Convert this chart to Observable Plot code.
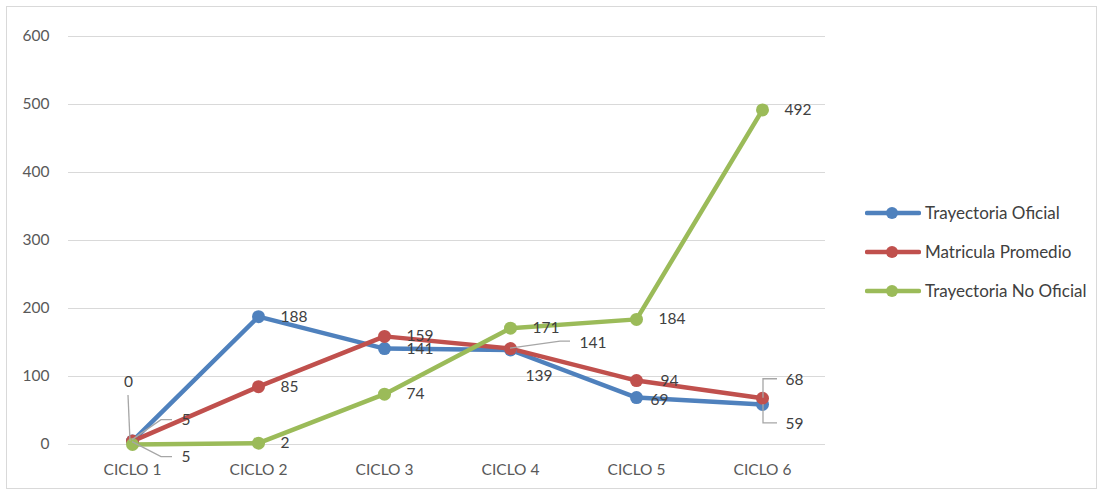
<!DOCTYPE html>
<html><head><meta charset="utf-8">
<script src="https://cdn.jsdelivr.net/npm/d3@7"></script>
<script src="https://cdn.jsdelivr.net/npm/@observablehq/plot@0.6"></script>
<style>
body{margin:0;background:#fff;font-family:Lato,"Noto Sans",sans-serif}
#wrap{position:relative;width:1104px;height:493px;overflow:hidden}
#border{position:absolute;left:6px;top:6px;width:1091px;height:483px;border:1.5px solid #d9d9d9;box-sizing:border-box}
#chart{position:absolute;left:0;top:0}
#legend{position:absolute;left:865px;top:193px}
.item{display:flex;align-items:center;height:39px;font-size:17px;color:#404040}
.item svg{margin-right:4px}
</style></head>
<body>
<div id="wrap"><div id="border"></div><div id="chart"></div><div id="legend"></div></div>
<script>
const cycles = ["CICLO 1","CICLO 2","CICLO 3","CICLO 4","CICLO 5","CICLO 6"];
const seriesNames = ["Trayectoria Oficial","Matricula Promedio","Trayectoria No Oficial"];
const oficial = [5,188,141,139,69,59];
const matricula = [5,85,159,141,94,68];
const noOficial = [0,2,74,171,184,492];
const yTicks = [0,100,200,300,400,500,600];
const colors = ["#4F81BD","#C0504D","#9BBB59"];

const seriesValues = [oficial, matricula, noOficial];
const table = [];
seriesNames.forEach((s,i)=>cycles.forEach((c,j)=>table.push({series:s, cycle:c, value:seriesValues[i][j]})));
const key = d => d.series + "|" + d.cycle;

// label placement (styling, not data)
const special = {
  "Trayectoria Oficial|CICLO 1":[49,-21,"start"],
  "Matricula Promedio|CICLO 1":[49,16,"start"],
  "Trayectoria No Oficial|CICLO 1":[-4,-62,"middle"],
  "Trayectoria Oficial|CICLO 4":[15,26,"start"],
  "Trayectoria Oficial|CICLO 5":[14,2,"start"],
  "Trayectoria Oficial|CICLO 6":[23,20,"start"],
  "Matricula Promedio|CICLO 6":[23,-18,"start"],
  "Matricula Promedio|CICLO 4":[69,-6,"start"],
  "Matricula Promedio|CICLO 5":[24,0,"start"]
};
const leaders = {
  "Trayectoria No Oficial|CICLO 1":[[-2,-3],[-4,-49]],
  "Trayectoria Oficial|CICLO 1":[[0,-1],[29,-21],[40,-21]],
  "Matricula Promedio|CICLO 1":[[0,1],[29,16],[40,16]],
  "Matricula Promedio|CICLO 4":[[0,0],[50,-7],[60,-7]],
  "Matricula Promedio|CICLO 6":[[1,0],[1,-19],[15,-19]],
  "Trayectoria Oficial|CICLO 6":[[1,0],[1,19],[15,19]]
};

const color = {domain: seriesNames, range: colors};
const labelStyle = {fill:"#404040", fontSize:15.5, fontFamily:"Lato"};

const marks = [
  Plot.ruleY(yTicks, {stroke:"#d9d9d9", strokeWidth:1}),
  Plot.axisY(yTicks, {tickSize:0, tickPadding:19, fontSize:15.5, fill:"#595959", fontFamily:"Lato", label:null}),
  Plot.axisX({tickSize:0, tickPadding:19, fontSize:15.5, fill:"#595959", fontFamily:"Lato", label:null}),
  Plot.line(table, {x:"cycle", y:"value", stroke:"series", z:"series", strokeWidth:4.5, strokeLinejoin:"round", strokeLinecap:"round"}),
  Plot.dot(table, {x:"cycle", y:"value", fill:"series", r:6.5}),
  (index, scales) => {
    const g = d3.create("svg:g").attr("fill","none").attr("stroke","#a6a6a6").attr("stroke-width",1.3);
    table.filter(d => leaders[key(d)]).forEach(d => {
      const px = scales.x(d.cycle), py = scales.y(d.value);
      g.append("polyline").attr("points", leaders[key(d)].map(([a,b]) => `${px+a},${py+b}`).join(" "));
    });
    return g.node();
  },
  Plot.text(table.filter(d => !special[key(d)]), {x:"cycle", y:"value", text:"value", dx:22, textAnchor:"start", ...labelStyle})
];
for (const d of table.filter(d => special[key(d)])) {
  const [dx,dy,anchor] = special[key(d)];
  marks.push(Plot.text([d], {x:"cycle", y:"value", text:"value", dx, dy, textAnchor:anchor, ...labelStyle}));
}

const chart = Plot.plot({
  width:1104, height:493,
  marginLeft:68, marginRight:279, marginTop:36, marginBottom:49,
  x:{type:"point", domain:cycles, padding:0.5, axis:null},
  y:{domain:[0,600], axis:null},
  color,
  style:{background:"transparent", fontFamily:"Lato"},
  marks
});
document.getElementById("chart").appendChild(chart);

const legend = d3.select("#legend");
seriesNames.forEach((s,i)=>{
  const it = legend.append("div").attr("class","item");
  const sv = it.append("svg").attr("width",56).attr("height",14);
  sv.append("line").attr("x1",2).attr("x2",54).attr("y1",7).attr("y2",7).attr("stroke",colors[i]).attr("stroke-width",4.5).attr("stroke-linecap","round");
  sv.append("circle").attr("cx",27).attr("cy",7).attr("r",6).attr("fill",colors[i]);
  it.append("span").text(s);
});
</script>
</body></html>
